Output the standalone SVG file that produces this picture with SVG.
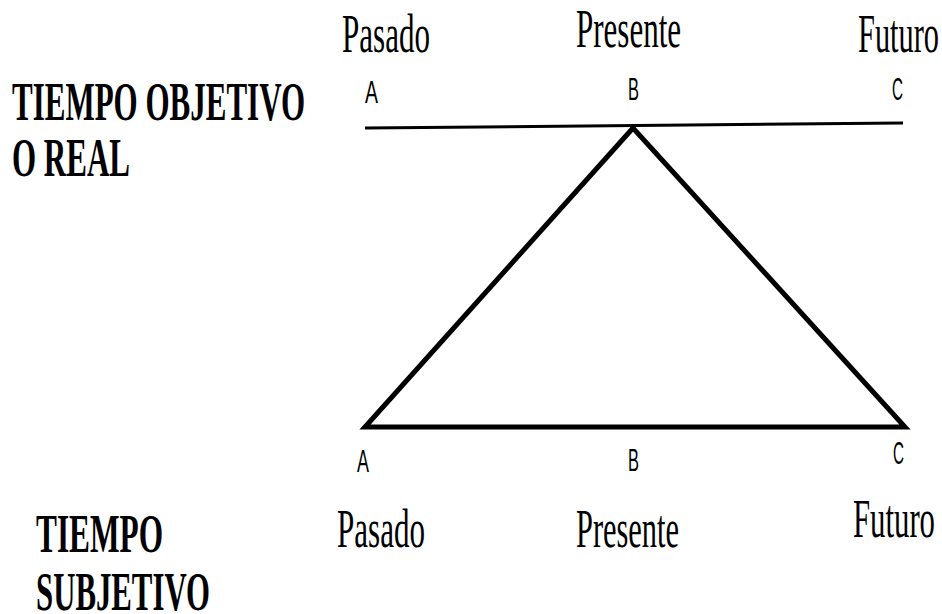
<svg xmlns="http://www.w3.org/2000/svg" width="942" height="614" viewBox="0 0 942 614">
<style>
.t{font-family:"Liberation Serif","Times New Roman",serif;fill:#000}
.b{font-weight:bold;font-size:54px}
.n{font-size:54px}
.s{font-family:"Liberation Sans",Arial,sans-serif;font-size:31px;fill:#000}
.ln{stroke:#000;fill:none;stroke-linejoin:miter;stroke-miterlimit:10}
</style>
<rect width="942" height="614" fill="#fff"/>
<g id="connectors">
<line class="ln" x1="365" y1="128" x2="903" y2="123" stroke-width="3"/>
<polygon class="ln" points="633,128 365,427 905,427" stroke-width="5"/>
</g>
<g id="objetivo-label">
<text class="t b" x="12" y="120" textLength="293" lengthAdjust="spacingAndGlyphs">TIEMPO OBJETIVO</text>
<text class="t b" x="12" y="176" textLength="118" lengthAdjust="spacingAndGlyphs">O REAL</text>
</g>
<g id="subjetivo-label">
<text class="t b" x="36" y="552" textLength="127" lengthAdjust="spacingAndGlyphs">TIEMPO</text>
<text class="t b" x="36" y="610" textLength="174" lengthAdjust="spacingAndGlyphs">SUBJETIVO</text>
</g>
<g id="top-pasado">
<text class="t n" x="342" y="52" textLength="88" lengthAdjust="spacingAndGlyphs">Pasado</text>
<text class="s" x="365" y="103" textLength="13" lengthAdjust="spacingAndGlyphs">A</text>
</g>
<g id="top-presente">
<text class="t n" x="576" y="47" textLength="105" lengthAdjust="spacingAndGlyphs">Presente</text>
<text class="s" x="628" y="100" textLength="11" lengthAdjust="spacingAndGlyphs">B</text>
</g>
<g id="top-futuro">
<text class="t n" x="858" y="52" textLength="81" lengthAdjust="spacingAndGlyphs">Futuro</text>
<text class="s" x="892" y="100" textLength="11" lengthAdjust="spacingAndGlyphs">C</text>
</g>
<g id="bottom-pasado">
<text class="s" x="357" y="472" textLength="12" lengthAdjust="spacingAndGlyphs">A</text>
<text class="t n" x="337" y="547" textLength="88" lengthAdjust="spacingAndGlyphs">Pasado</text>
</g>
<g id="bottom-presente">
<text class="s" x="628" y="471" textLength="11" lengthAdjust="spacingAndGlyphs">B</text>
<text class="t n" x="576" y="547" textLength="103" lengthAdjust="spacingAndGlyphs">Presente</text>
</g>
<g id="bottom-futuro">
<text class="s" x="893" y="464" textLength="11" lengthAdjust="spacingAndGlyphs">C</text>
<text class="t n" x="853" y="537" textLength="82" lengthAdjust="spacingAndGlyphs">Futuro</text>
</g>
</svg>
